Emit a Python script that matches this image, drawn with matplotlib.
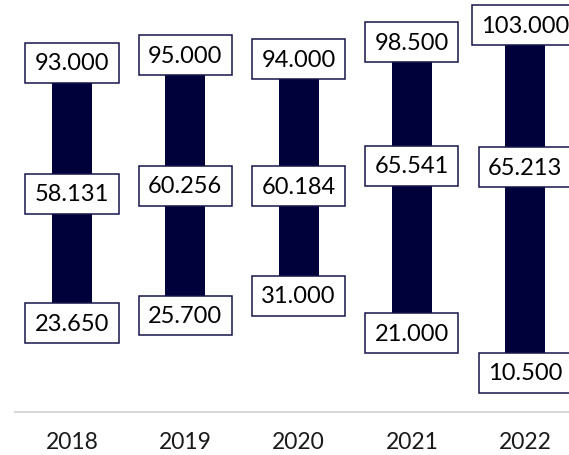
import matplotlib
matplotlib.use("Agg")
import matplotlib.pyplot as plt

# Yearly range: highest, middle and lowest values
years = ["2018", "2019", "2020", "2021", "2022"]
high = [93000, 95000, 94000, 98500, 103000]
mid = [58131, 60256, 60184, 65541, 65213]
low = [23650, 25700, 31000, 21000, 10500]

BAR_COLOR = "#00003a"
BOX_EDGE = "#15154a"

plt.rcParams["font.family"] = ["Lato", "DejaVu Sans"]

fig = plt.figure(figsize=(5.69, 4.56), dpi=100)
ax = fig.add_axes([15.3 / 569, 1 - 413 / 456, 1 - 15.3 / 569, 413 / 456])

x = list(range(len(years)))
spans = [h - l for h, l in zip(high, low)]
ax.bar(x, spans, bottom=low, width=0.353, color=BAR_COLOR, zorder=2)


def fmt(v):
    return f"{v:,.0f}".replace(",", ".")


box = dict(boxstyle="square,pad=0.4", facecolor="white", edgecolor=BOX_EDGE, linewidth=1.1)
for xi, h, m, l in zip(x, high, mid, low):
    for v in (h, m, l):
        ax.text(xi, v, fmt(v), ha="center", va="center", fontsize=17,
                color="#000000", bbox=box, zorder=3)

ax.set_xlim(-0.5, (569 - 15.3) / 113.3 - 0.5)
ax.set_ylim(0, 110000)
ax.set_xticks(x)
ax.set_xticklabels(years, fontsize=16.5, color="#1a1a1a")
ax.tick_params(axis="x", length=0, pad=14)
ax.set_yticks([])
for side in ("top", "right", "left"):
    ax.spines[side].set_visible(False)
ax.spines["bottom"].set_color("#d9d9d9")
ax.spines["bottom"].set_linewidth(1.5)
ax.patch.set_alpha(0)

fig.savefig("out.png", dpi=100)
